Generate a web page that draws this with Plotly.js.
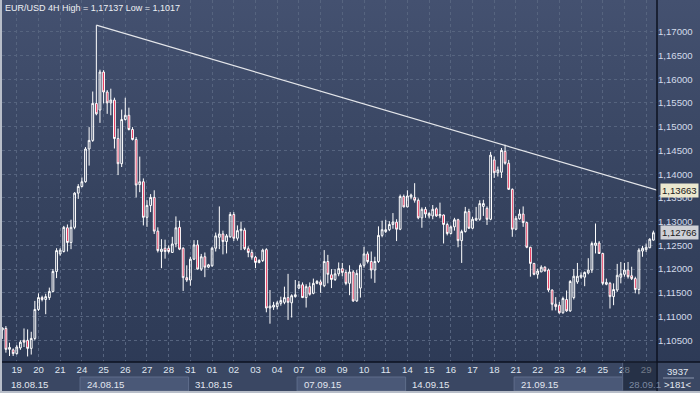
<!DOCTYPE html>
<html><head><meta charset="utf-8">
<script src="https://cdn.plot.ly/plotly-3.0.1.min.js"></script>
<style>
html,body{margin:0;padding:0;background:#2d3a56;}
#wrap{position:relative;width:700px;height:393px;box-sizing:border-box;border-left:2px solid #b8bec9;border-bottom:2px solid #b8bec9;background:linear-gradient(to bottom,#445170 0%,#36435f 50%,#2c3955 100%);overflow:hidden;}
#chart{width:698px;height:391px;}
</style></head><body><div id="wrap"><div id="chart"></div></div>
<script>
// ---- data (4H bars, index 0..180) ----
const openP = [1.1072,1.1075,1.1031,1.1030,1.1022,1.1034,1.1050,1.1050,1.1033,1.1054,
1.1115,1.1140,1.1136,1.1140,1.1153,1.1195,1.1232,1.1237,1.1287,1.1256,
1.1288,1.1360,1.1374,1.1384,1.1453,1.1471,1.1549,1.1535,1.1615,1.1573,
1.1550,1.1556,1.1475,1.1422,1.1515,1.1524,1.1494,1.1473,1.1378,1.1384,
1.1309,1.1334,1.1351,1.1280,1.1237,1.1244,1.1244,1.1235,1.1253,1.1288,
1.1244,1.1182,1.1177,1.1221,1.1251,1.1200,1.1226,1.1204,1.1207,1.1244,
1.1267,1.1274,1.1258,1.1268,1.1315,1.1265,1.1281,1.1282,1.1243,1.1235,
1.1225,1.1214,1.1218,1.1241,1.1118,1.1120,1.1121,1.1128,1.1130,1.1140,
1.1129,1.1142,1.1160,1.1167,1.1140,1.1163,1.1149,1.1170,1.1173,1.1165,
1.1216,1.1188,1.1178,1.1190,1.1201,1.1193,1.1170,1.1194,1.1133,1.1160,
1.1208,1.1232,1.1216,1.1198,1.1216,1.1271,1.1279,1.1283,1.1294,1.1299,
1.1284,1.1353,1.1331,1.1352,1.1351,1.1345,1.1308,1.1326,1.1312,1.1312,
1.1327,1.1312,1.1314,1.1294,1.1275,1.1289,1.1304,1.1260,1.1279,1.1321,
1.1286,1.1303,1.1305,1.1332,1.1328,1.1305,1.1430,1.1403,1.1404,1.1448,
1.1423,1.1368,1.1284,1.1306,1.1316,1.1298,1.1246,1.1212,1.1189,1.1194,
1.1204,1.1198,1.1156,1.1126,1.1124,1.1108,1.1136,1.1112,1.1140,1.1173,
1.1183,1.1183,1.1192,1.1198,1.1250,1.1255,1.1233,1.1168,1.1170,1.1142,
1.1156,1.1183,1.1189,1.1198,1.1186,1.1180,1.1157,1.1238,1.1241,1.1245,
1.1261];
const highP = [1.1077,1.1080,1.1045,1.1033,1.1040,1.1050,1.1075,1.1073,1.1068,1.1133,
1.1149,1.1144,1.1148,1.1161,1.1200,1.1244,1.1244,1.1291,1.1294,1.1304,
1.1362,1.1379,1.1393,1.1457,1.1499,1.1574,1.17137,1.1620,1.1619,1.1577,
1.1580,1.1561,1.1496,1.1536,1.1561,1.1540,1.1499,1.1478,1.1437,1.1391,
1.1345,1.1358,1.1366,1.1288,1.1263,1.1262,1.1250,1.1268,1.1311,1.1302,
1.1246,1.1208,1.1226,1.1261,1.1261,1.1232,1.1235,1.1211,1.1247,1.1277,
1.1332,1.1281,1.1274,1.1320,1.1320,1.1292,1.1300,1.1287,1.1248,1.1241,
1.1228,1.1221,1.1243,1.1244,1.1156,1.1131,1.1133,1.1142,1.1163,1.1190,
1.1147,1.1177,1.1175,1.1172,1.1168,1.1172,1.1180,1.1177,1.1178,1.1240,
1.1230,1.1200,1.1200,1.1214,1.1213,1.1198,1.1208,1.1198,1.1198,1.1212,
1.1247,1.1237,1.1237,1.1226,1.1290,1.1302,1.1304,1.1301,1.1318,1.1305,
1.1357,1.1357,1.1366,1.1359,1.1381,1.1349,1.1330,1.1331,1.1320,1.1335,
1.1330,1.1340,1.1315,1.1298,1.1292,1.1308,1.1306,1.1283,1.1331,1.1327,
1.1310,1.1331,1.1345,1.1346,1.1332,1.1447,1.1437,1.1416,1.1455,1.1462,
1.1430,1.1370,1.1312,1.1326,1.1332,1.1300,1.1247,1.1213,1.1201,1.1208,
1.1206,1.1201,1.1157,1.1141,1.1131,1.1142,1.1155,1.1177,1.1200,1.1213,
1.1193,1.1195,1.1223,1.1258,1.1296,1.1259,1.1234,1.1180,1.1173,1.1170,
1.1211,1.1215,1.1213,1.1215,1.1205,1.1184,1.1244,1.1249,1.1254,1.1265,
1.1281];
const lowP = [1.1053,1.1024,1.1017,1.1017,1.1020,1.1030,1.1036,1.1016,1.1020,1.1050,
1.1112,1.1132,1.1105,1.1135,1.1151,1.1181,1.1228,1.1235,1.1237,1.1242,
1.1284,1.1348,1.1372,1.1382,1.1418,1.1468,1.1524,1.1508,1.1549,1.1527,
1.1524,1.1454,1.1398,1.1415,1.1513,1.1492,1.1471,1.1351,1.1362,1.1292,
1.1289,1.1320,1.1274,1.1235,1.1202,1.1222,1.1233,1.1234,1.1246,1.1240,
1.1154,1.1173,1.1165,1.1219,1.1199,1.1196,1.1183,1.1202,1.1205,1.1237,
1.1242,1.1231,1.1233,1.1266,1.1259,1.1260,1.1240,1.1240,1.1225,1.1220,
1.1202,1.1212,1.1215,1.1109,1.1085,1.1114,1.1115,1.1123,1.1126,1.1093,
1.1098,1.1140,1.1158,1.1139,1.1119,1.1144,1.1147,1.1168,1.1150,1.1162,
1.1170,1.1160,1.1175,1.1185,1.1185,1.1166,1.1145,1.1131,1.1131,1.1140,
1.1203,1.1212,1.1180,1.1171,1.1213,1.1267,1.1276,1.1280,1.1285,1.1259,
1.1282,1.1330,1.1330,1.1347,1.1340,1.1305,1.1287,1.1308,1.1307,1.1305,
1.1310,1.1307,1.1254,1.1271,1.1273,1.1281,1.1246,1.1213,1.1277,1.1285,
1.1284,1.1302,1.1302,1.1312,1.1293,1.1303,1.1392,1.1395,1.1392,1.1420,
1.1367,1.1268,1.1282,1.1304,1.1289,1.1244,1.1184,1.1187,1.1180,1.1194,
1.1195,1.1152,1.1113,1.1113,1.1106,1.1106,1.1110,1.1110,1.1136,1.1169,
1.1180,1.1164,1.1189,1.1192,1.1233,1.1232,1.1166,1.1166,1.1117,1.1124,
1.1152,1.1170,1.1184,1.1180,1.1177,1.1149,1.1147,1.1226,1.1236,1.1244,
1.1260];
const closeP = [1.1076,1.1031,1.1035,1.1022,1.1036,1.1046,1.1046,1.1033,1.1054,1.1115,
1.1140,1.1136,1.1142,1.1153,1.1195,1.1239,1.1240,1.1288,1.1256,1.1288,
1.1360,1.1374,1.1384,1.1453,1.1471,1.1549,1.1527,1.1615,1.1573,1.1550,
1.1556,1.1475,1.1422,1.1515,1.1524,1.1494,1.1473,1.1377,1.1384,1.1309,
1.1334,1.1351,1.1280,1.1239,1.1242,1.1237,1.1237,1.1253,1.1287,1.1242,
1.1182,1.1177,1.1221,1.1251,1.1200,1.1226,1.1204,1.1209,1.1244,1.1270,
1.1274,1.1258,1.1270,1.1315,1.1265,1.1281,1.1284,1.1243,1.1235,1.1225,
1.1214,1.1218,1.1240,1.1118,1.1122,1.1124,1.1129,1.1134,1.1140,1.1130,
1.1144,1.1146,1.1167,1.1140,1.1163,1.1147,1.1170,1.1174,1.1167,1.1216,
1.1189,1.1178,1.1190,1.1201,1.1193,1.1170,1.1194,1.1133,1.1191,1.1208,
1.1232,1.1216,1.1198,1.1216,1.1271,1.1283,1.1283,1.1294,1.1299,1.1284,
1.1353,1.1331,1.1354,1.1356,1.1345,1.1308,1.1326,1.1316,1.1317,1.1326,
1.1312,1.1315,1.1294,1.1275,1.1289,1.1304,1.1260,1.1279,1.1321,1.1286,
1.1305,1.1307,1.1338,1.1338,1.1305,1.1440,1.1403,1.1409,1.1450,1.1423,
1.1368,1.1284,1.1307,1.1316,1.1298,1.1246,1.1212,1.1189,1.1196,1.1204,
1.1196,1.1156,1.1126,1.1121,1.1108,1.1138,1.1112,1.1174,1.1185,1.1185,
1.1187,1.1193,1.1198,1.1254,1.1255,1.1233,1.1170,1.1172,1.1142,1.1157,
1.1187,1.1190,1.1198,1.1184,1.1180,1.1157,1.1240,1.1244,1.1246,1.1263,
1.12766];

// day ticks (bar index where each day starts) and labels
const dayStarts = [4,10,16,22,28,34,40,46,52,58,64,70,76,82,88,94,100,106,112,118,124,130,136,142,148,154,160,166,172,178];
const dayLabels = ['19','20','21','24','25','26','27','28','31','01','02','03','04','07','08','09','10','11','14','15','16','17','18','21','22','23','24','25','28','29'];
// week rows
const weekStarts = [0,22,52,82,112,142,172];
const weekLabels = ['18.08.15','24.08.15','31.08.15','07.09.15','14.09.15','21.09.15','28.09.1'];
// price axis ticks
const yTicks = [1.105,1.110,1.115,1.120,1.125,1.130,1.135,1.140,1.145,1.150,1.155,1.160,1.165,1.170];
// trend line
const trendX = [26, 181.0];
const trendY = [1.17137, 1.13663];
const titleText = 'EUR/USD 4H High = 1,17137 Low = 1,1017';
const barCount = '3937';
const visibleBars = '>181<';

const idx = closeP.map((_, i) => i);
const FONT = 'Liberation Sans, Arial, sans-serif';
const PW = 655, PH = 362, RM = 43, BM = 29;
const fmt = v => v.toFixed(5).replace('.', ',');

const candles = {
  type: 'candlestick', x: idx, open: openP, high: highP, low: lowP, close: closeP,
  increasing: {line: {color: '#ffffff', width: 1}, fillcolor: 'rgba(0,0,0,0)'},
  decreasing: {line: {color: '#ffffff', width: 1}, fillcolor: '#e3103c'},
  whiskerwidth: 0, hoverinfo: 'skip', showlegend: false
};
const trend = {
  type: 'scatter', mode: 'lines', x: trendX, y: trendY,
  line: {color: '#e4e6ea', width: 1.2}, hoverinfo: 'skip', showlegend: false
};

const shapes = [];
// bottom strip
shapes.push({type:'rect', xref:'paper', yref:'paper', x0:0, x1:1+RM/PW, y0:-BM/PH, y1:0, fillcolor:'#3a4763', line:{width:0}, layer:'below'});
// week boxes
for (let k = 0; k < weekStarts.length; k++) {
  const x0 = weekStarts[k] - 0.5;
  const x1 = k + 1 < weekStarts.length ? weekStarts[k+1] - 0.5 : 181.0;
  if (k === weekStarts.length - 1) {
    shapes.push({type:'rect', xref:'x', yref:'paper', x0:x0, x1:x1, y0:-BM/PH, y1:0, fillcolor:'rgba(22,31,50,0.55)', line:{color:'#56647f', width:1}, layer:'above'});
  } else if (k % 2 === 1) {
    shapes.push({type:'rect', xref:'x', yref:'paper', x0:x0, x1:x1, y0:-BM/PH, y1:-15/PH, fillcolor:'#4a5877', line:{color:'#5f6d8b', width:1}, layer:'below'});
  }
}
// separators
shapes.push({type:'line', xref:'paper', yref:'paper', x0:1, x1:1, y0:-BM/PH, y1:1, line:{color:'#0c1220', width:1.5}});
shapes.push({type:'line', xref:'paper', yref:'paper', x0:0, x1:1+RM/PW, y0:0, y1:0, line:{color:'#0c1220', width:1.5}});
shapes.push({type:'line', xref:'paper', yref:'paper', x0:1+6/PW, x1:1+37/PW, y0:-16/PH, y1:-16/PH, line:{color:'#8a96ae', width:1}});

const annotations = [];
annotations.push({xref:'paper', yref:'paper', x:0, y:1, xanchor:'left', yanchor:'top', xshift:1, yshift:-1, showarrow:false,
  text: titleText, font:{family:FONT, size:9, color:'#eef0f4'}});
weekStarts.forEach((w, k) => {
  annotations.push({xref:'x', yref:'paper', x:w, y:-22/PH, xanchor:'left', yanchor:'middle', xshift: k===0 ? 7 : 3, showarrow:false,
    text: weekLabels[k], font:{family:FONT, size:9.6, color: k === weekStarts.length-1 ? '#7d8aa3' : '#e2e7f0'}});
});
annotations.push({xref:'paper', yref:'paper', x:1+21/PW, y:-9/PH, xanchor:'center', yanchor:'middle', showarrow:false,
  text: barCount, font:{family:FONT, size:9.6, color:'#e2e7f0'}});
annotations.push({xref:'paper', yref:'paper', x:1+21/PW, y:-22/PH, xanchor:'center', yanchor:'middle', showarrow:false,
  text: visibleBars, font:{family:FONT, size:9.6, color:'#e2e7f0'}});
annotations.push({xref:'paper', yref:'y', x:1, y:trendY[1], xanchor:'left', yanchor:'middle', xshift:3, showarrow:false,
  text: fmt(trendY[1]), bgcolor:'#ebe8cf', borderpad:1, font:{family:FONT, size:9.6, color:'#1a1a1a'}});
annotations.push({xref:'paper', yref:'y', x:1, y:closeP[closeP.length-1], xanchor:'left', yanchor:'middle', xshift:3, showarrow:false,
  text: fmt(closeP[closeP.length-1]), bgcolor:'#cfd1d6', borderpad:1, font:{family:FONT, size:9.6, color:'#1a1a1a'}});

const layout = {
  width: 698, height: 391,
  margin: {l:0, r:RM, t:0, b:BM, pad:0},
  paper_bgcolor: 'rgba(0,0,0,0)', plot_bgcolor: 'rgba(0,0,0,0)',
  separators: ', ',
  showlegend: false,
  font: {family: FONT, size: 9.6, color: '#dfe5ef'},
  xaxis: {
    type:'linear', range:[-0.083, 181.0], rangeslider:{visible:false},
    tickmode:'array', tickvals: dayStarts, ticktext: dayLabels,
    showgrid:true, gridcolor:'#56647f', griddash:'3px,3px', gridwidth:1,
    zeroline:false, showline:false, ticks:'', tickfont:{family:FONT, size:9.6, color:'#dfe5ef'}
  },
  yaxis: {
    side:'right', range:[1.100434, 1.176677],
    tickmode:'array', tickvals: yTicks, ticktext: yTicks.map(fmt),
    showgrid:true, gridcolor:'#56647f', griddash:'3px,3px', gridwidth:1,
    zeroline:false, showline:false, ticks:'', tickfont:{family:FONT, size:9.6, color:'#d3dbea'}
  },
  shapes: shapes, annotations: annotations
};
Plotly.newPlot('chart', [candles, trend], layout, {displayModeBar:false, staticPlot:true});
</script></body></html>
